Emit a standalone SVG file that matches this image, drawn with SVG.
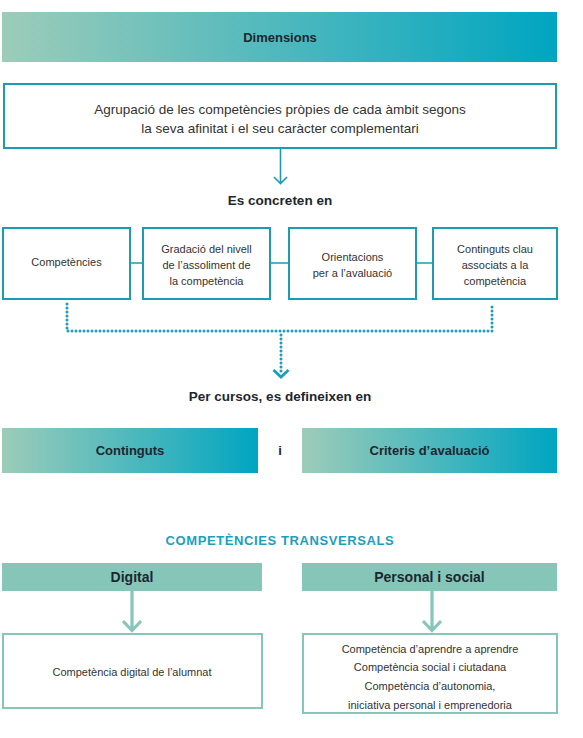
<svg xmlns="http://www.w3.org/2000/svg" width="583" height="738" viewBox="0 0 583 738">
<defs>
<linearGradient id="g" x1="0" y1="0" x2="1" y2="0">
<stop offset="0" stop-color="#9dccb9"/>
<stop offset="1" stop-color="#00a5c1"/>
</linearGradient>
<style>
text{font-family:"Liberation Sans",Arial,sans-serif;text-anchor:middle}
.b{font-weight:bold;fill:#1c2730;font-size:13px}
.t{fill:#333;font-size:13.5px}
.s{fill:#333;font-size:11px}
.box{fill:#fff;stroke:#1d9bb1;stroke-width:2}
.gbox{fill:#fff;stroke:#86c6b9;stroke-width:2}
.bar{fill:url(#g)}
.lbar{fill:#86c6b9}
.ln{stroke:#1d9bb1;stroke-width:1.6;fill:none}
.dot{stroke:#199fbd;stroke-width:3;fill:none;stroke-dasharray:0 4;stroke-linecap:round}
.gl{stroke:#86c6b9;stroke-width:3.2;fill:none}
</style>
</defs>
<rect width="583" height="738" fill="#fff"/>

<g id="dimensions">
<rect class="bar" x="2" y="12" width="555" height="50"/>
<text class="b" x="280" y="42">Dimensions</text>
</g>

<g id="agrupacio">
<rect class="box" x="4" y="84" width="552" height="64"/>
<text class="t" x="280" y="114">Agrupació de les competències pròpies de cada àmbit segons</text>
<text class="t" x="280" y="133">la seva afinitat i el seu caràcter complementari</text>
</g>

<g id="es-concreten">
<text class="b" x="280" y="205" style="font-size:13.5px">Es concreten en</text>
</g>

<g id="competencies">
<rect class="box" x="3" y="228" width="127" height="71"/>
<text class="s" x="66.5" y="266">Competències</text>
</g>
<g id="gradacio">
<rect class="box" x="143" y="228" width="127" height="71"/>
<text class="s" x="206.5" y="253">Gradació del nivell</text>
<text class="s" x="206.5" y="269">de l’assoliment de</text>
<text class="s" x="206.5" y="285">la competència</text>
</g>
<g id="orientacions">
<rect class="box" x="289" y="228" width="127" height="71"/>
<text class="s" x="352.5" y="261">Orientacions</text>
<text class="s" x="352.5" y="277">per a l’avaluació</text>
</g>
<g id="continguts-clau">
<rect class="box" x="433" y="228" width="124" height="71"/>
<text class="s" x="495" y="253">Continguts clau</text>
<text class="s" x="495" y="269">associats a la</text>
<text class="s" x="495" y="285">competència</text>
</g>

<g id="per-cursos">
<text class="b" x="280" y="401" style="font-size:13.5px">Per cursos, es defineixen en</text>
</g>

<g id="continguts">
<rect class="bar" x="2" y="428" width="256" height="45"/>
<text class="b" x="130" y="455">Continguts</text>
</g>
<g id="i-label">
<text class="b" x="280" y="455">i</text>
</g>
<g id="criteris">
<rect class="bar" x="302" y="428" width="255" height="45"/>
<text class="b" x="429.5" y="455">Criteris d’avaluació</text>
</g>

<g id="transversals">
<text x="280" y="545" style="font-weight:bold;font-size:13px;fill:#1a9fbd;letter-spacing:0.6px">COMPETÈNCIES TRANSVERSALS</text>
</g>

<g id="digital">
<rect class="lbar" x="2" y="563" width="260" height="28"/>
<text class="b" x="132" y="582" style="font-size:14px">Digital</text>
</g>
<g id="personal">
<rect class="lbar" x="302" y="563" width="255" height="28"/>
<text class="b" x="429.5" y="582" style="font-size:14px">Personal i social</text>
</g>

<g id="digital-box">
<rect class="gbox" x="3" y="634" width="259" height="74"/>
<text class="s" x="132" y="676">Competència digital de l’alumnat</text>
</g>
<g id="personal-box">
<rect class="gbox" x="303" y="634" width="254" height="79"/>
<text class="s" x="430" y="653">Competència d’aprendre a aprendre</text>
<text class="s" x="430" y="671">Competència social i ciutadana</text>
<text class="s" x="430" y="690">Competència d’autonomia,</text>
<text class="s" x="430" y="709">iniciativa personal i emprenedoria</text>
</g>

<g id="connectors">
<path class="ln" d="M280.5,149 V183 M274,177 L280.5,183.5 L287,177"/>
<path class="ln" d="M130,263 H143 M270,263 H289 M416,263 H433"/>
<path class="dot" d="M67,304 V331 H492 V304"/>
<path class="dot" d="M281,335 V372"/>
<path d="M273.5,370 L281,377 L288.5,370" fill="none" stroke="#199fbd" stroke-width="2.8"/>
<path class="gl" d="M132,591 V630 M123,621 L132,630.5 L141,621"/>
<path class="gl" d="M432,591 V630 M423,621 L432,630.5 L441,621"/>
</g>
</svg>
